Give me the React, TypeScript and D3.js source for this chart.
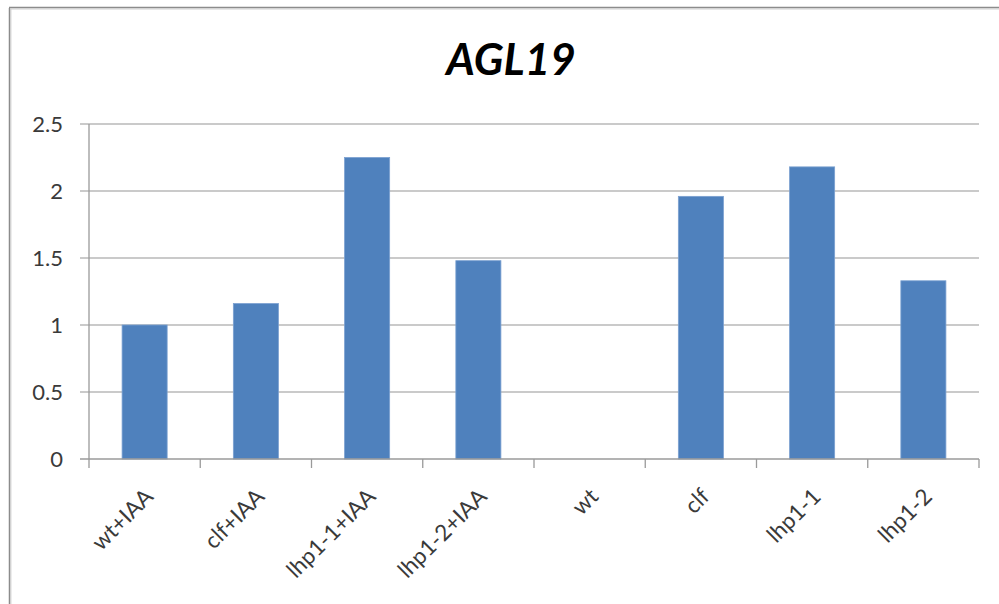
import React from "react";
import * as d3 from "d3";

const categories = ["wt+IAA", "clf+IAA", "lhp1-1+IAA", "lhp1-2+IAA", "wt", "clf", "lhp1-1", "lhp1-2"];
const values = [1.0, 1.16, 2.25, 1.48, 0, 1.96, 2.18, 1.33];
const yTicks = [0, 0.5, 1, 1.5, 2, 2.5];
const title = "AGL19";

const W = 999;
const H = 604;
const plot = { left: 89, right: 979, top: 124, bottom: 459 };
const FONT = "Lato, 'Open Sans', sans-serif";

export default function App() {
  const x = d3
    .scaleBand<string>()
    .domain(categories)
    .range([plot.left, plot.right])
    .paddingInner(0.595)
    .paddingOuter(0.2975);
  const y = d3.scaleLinear().domain([0, 2.5]).range([plot.bottom, plot.top]);
  const step = x.step();
  const boundaries = d3.range(categories.length + 1).map((i) => plot.left + i * step);

  return (
    <svg
      width={W}
      height={H}
      style={{ position: "absolute", left: 0, top: 0, background: "#fff" }}
    >
      {/* chart frame */}
      <line x1={9.5} y1={8} x2={9.5} y2={H} stroke="#8c8c8c" strokeWidth={1.5} />
      <line x1={10.8} y1={9} x2={10.8} y2={H} stroke="#cfcfcf" strokeWidth={1.2} />
      <line x1={9} y1={7.5} x2={W} y2={7.5} stroke="#8c8c8c" strokeWidth={1.5} />
      <line x1={10} y1={8.8} x2={W} y2={8.8} stroke="#cfcfcf" strokeWidth={1.2} />

      <text
        x={511}
        y={75}
        textAnchor="middle"
        fontFamily={FONT}
        fontWeight="bold"
        fontStyle="italic"
        fontSize={44}
        fill="#000"
      >
        {title}
      </text>

      {/* gridlines and value axis labels */}
      {yTicks.map((t) => (
        <g key={t}>
          {t > 0 && (
            <line x1={80} x2={plot.right} y1={y(t)} y2={y(t)} stroke="#b8b8b8" strokeWidth={1.3} />
          )}
          <text
            x={63}
            y={y(t)}
            dy="0.36em"
            textAnchor="end"
            fontFamily={FONT}
            fontSize={22}
            fill="#3a3a3a"
          >
            {t}
          </text>
        </g>
      ))}

      {/* bars */}
      {categories.map((c, i) => (
        <rect
          key={c}
          x={x(c)!}
          y={y(values[i])}
          width={x.bandwidth()}
          height={plot.bottom - y(values[i])}
          fill="#4f81bd"
          stroke="#7ba0d0"
          strokeWidth={0.8}
        />
      ))}

      {/* axes */}
      <line x1={plot.left} x2={plot.left} y1={plot.top} y2={plot.bottom} stroke="#9a9a9a" strokeWidth={1.3} />
      <line x1={80} x2={plot.right} y1={plot.bottom} y2={plot.bottom} stroke="#9a9a9a" strokeWidth={1.5} />
      {boundaries.map((bx, i) => (
        <line key={i} x1={bx} x2={bx} y1={plot.bottom} y2={plot.bottom + 9} stroke="#9a9a9a" strokeWidth={1.3} />
      ))}

      {/* category labels */}
      {categories.map((c) => {
        const cx = x(c)! + x.bandwidth() / 2 + 4;
        const cy = 492;
        return (
          <text
            key={c}
            transform={`translate(${cx},${cy}) rotate(-45)`}
            textAnchor="end"
            dominantBaseline="central"
            fontFamily={FONT}
            fontSize={22.5}
            fill="#3a3a3a"
          >
            {c}
          </text>
        );
      })}
    </svg>
  );
}
